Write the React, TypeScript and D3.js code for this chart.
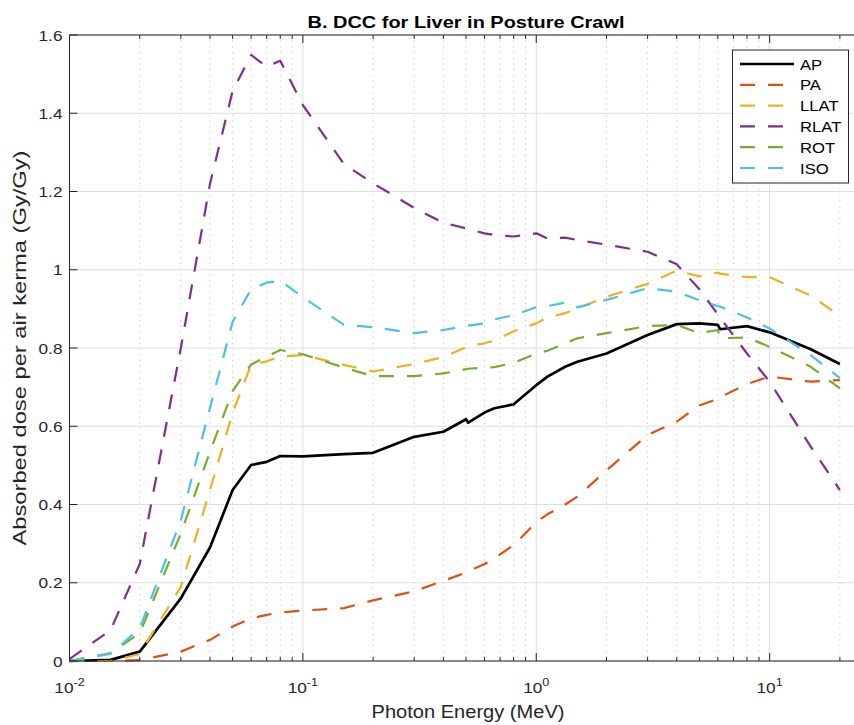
import React from "react";
import * as d3 from "d3";

const energies = [0.01, 0.015, 0.02, 0.03, 0.04, 0.05, 0.06, 0.07, 0.08, 0.1, 0.15, 0.2, 0.3, 0.4, 0.5, 0.511, 0.6, 0.662, 0.8, 1, 1.117, 1.33, 1.5, 2, 3, 4, 5, 6, 6.129, 8, 10, 15, 20];

const AP = [0, 0.003, 0.024, 0.16, 0.29, 0.437, 0.501, 0.509, 0.524, 0.523, 0.529, 0.532, 0.573, 0.586, 0.618, 0.609, 0.635, 0.646, 0.656, 0.705, 0.727, 0.752, 0.765, 0.786, 0.833, 0.861, 0.863, 0.859, 0.848, 0.856, 0.84, 0.797, 0.759];
const PA = [0, 0, 0.002, 0.024, 0.054, 0.088, 0.109, 0.118, 0.124, 0.129, 0.135, 0.155, 0.178, 0.205, 0.226, 0.229, 0.248, 0.263, 0.296, 0.355, 0.375, 0.4, 0.42, 0.487, 0.578, 0.612, 0.653, 0.67, 0.674, 0.708, 0.727, 0.714, 0.718];
const LLAT = [0, 0, 0.018, 0.19, 0.437, 0.634, 0.757, 0.766, 0.778, 0.782, 0.757, 0.74, 0.759, 0.777, 0.802, 0.804, 0.812, 0.819, 0.843, 0.863, 0.878, 0.889, 0.901, 0.931, 0.964, 0.998, 0.983, 0.993, 0.99, 0.981, 0.981, 0.934, 0.882];
const RLAT = [0.005, 0.079, 0.248, 0.8, 1.22, 1.457, 1.549, 1.519, 1.534, 1.421, 1.27, 1.221, 1.158, 1.12, 1.106, 1.104, 1.093, 1.089, 1.085, 1.093, 1.08, 1.082, 1.076, 1.064, 1.046, 1.014, 0.95, 0.886, 0.878, 0.786, 0.714, 0.548, 0.437];
const ROT = [0, 0.02, 0.071, 0.326, 0.535, 0.69, 0.758, 0.778, 0.795, 0.784, 0.75, 0.728, 0.728, 0.735, 0.746, 0.747, 0.75, 0.751, 0.762, 0.786, 0.793, 0.812, 0.825, 0.838, 0.856, 0.859, 0.838, 0.846, 0.825, 0.827, 0.803, 0.752, 0.697];
const ISO = [0, 0.018, 0.083, 0.36, 0.647, 0.867, 0.95, 0.967, 0.972, 0.93, 0.859, 0.853, 0.838, 0.846, 0.856, 0.857, 0.863, 0.873, 0.884, 0.904, 0.907, 0.916, 0.904, 0.923, 0.953, 0.944, 0.922, 0.907, 0.906, 0.878, 0.85, 0.782, 0.723];

const seriesNames = ["AP", "PA", "LLAT", "RLAT", "ROT", "ISO"];
const seriesValues = [AP, PA, LLAT, RLAT, ROT, ISO];
const seriesColors = ["#000000", "#D95319", "#EDB120", "#7E2F8E", "#77AC30", "#4DBEEE"];
const seriesDashed = [false, true, true, true, true, true];

const yTicks = [0, 0.2, 0.4, 0.6, 0.8, 1, 1.2, 1.4, 1.6];
const xMajor = [0.01, 0.1, 1, 10];
const xMajorExp = ["-2", "-1", "0", "1"];

const W = 854, H = 725;
const L = 69.5, T = 35, B = 661, R = 862.5;
const FONT = "'Liberation Sans', Arial, Helvetica, sans-serif";
const AX = "#262626";
const SX = 1.15;

export default function App() {
  const x = d3.scaleLog().domain([0.01, 25]).range([L, R]);
  const y = d3.scaleLinear().domain([0, 1.6]).range([B, T]);
  const xMinor: number[] = [];
  xMajor.forEach((d) => {
    for (let k = 2; k <= 9; k++) {
      const v = d * k;
      if (v <= 25) xMinor.push(v);
    }
  });
  const line = d3
    .line<[number, number]>()
    .x((d) => x(d[0]))
    .y((d) => y(d[1]));

  const legX = 732.5, legY = 50, legW = 116, legH = 133;
  const rowY = (i: number) => 64 + i * 20.8;

  return (
    <svg width={W} height={H} style={{ position: "absolute", left: 0, top: 0, background: "#fff" }} fontFamily={FONT}>
      <rect x={0} y={0} width={W} height={H} fill="#fff" />
      {/* minor grid */}
      {xMinor.map((v) => (
        <line key={"mg" + v} x1={x(v)} x2={x(v)} y1={T} y2={B} stroke="#c4c4c4" strokeWidth={1} strokeDasharray="1.2 4.5" />
      ))}
      {/* major grid */}
      {xMajor.map((v) => (
        <line key={"xg" + v} x1={x(v)} x2={x(v)} y1={T} y2={B} stroke="#dedede" strokeWidth={1} />
      ))}
      {yTicks.map((v) => (
        <line key={"yg" + v} x1={L} x2={W} y1={y(v)} y2={y(v)} stroke="#dedede" strokeWidth={1} />
      ))}
      {/* series */}
      {seriesValues.map((vals, i) => (
        <path
          key={seriesNames[i]}
          d={line(energies.map((e, j) => [e, vals[j]] as [number, number])) || ""}
          fill="none"
          stroke={seriesColors[i]}
          strokeWidth={seriesDashed[i] ? 2.2 : 2.7}
          strokeDasharray={seriesDashed[i] ? "15 13" : undefined}
          strokeLinejoin="round"
        />
      ))}
      {/* axes */}
      <line x1={L} x2={L} y1={T} y2={B} stroke={AX} strokeWidth={1} />
      <line x1={L} x2={W} y1={B} y2={B} stroke={AX} strokeWidth={1} />
      <line x1={L} x2={W} y1={T} y2={T} stroke={AX} strokeWidth={1} />
      {xMajor.map((v) => (
        <g key={"xt" + v}>
          <line x1={x(v)} x2={x(v)} y1={B} y2={B - 8} stroke={AX} />
          <line x1={x(v)} x2={x(v)} y1={T} y2={T + 8} stroke={AX} />
        </g>
      ))}
      {xMinor.map((v) => (
        <g key={"xmt" + v}>
          <line x1={x(v)} x2={x(v)} y1={B} y2={B - 4} stroke={AX} />
          <line x1={x(v)} x2={x(v)} y1={T} y2={T + 4} stroke={AX} />
        </g>
      ))}
      {yTicks.map((v) => (
        <g key={"yt" + v}>
          <line x1={L} x2={L + 8} y1={y(v)} y2={y(v)} stroke={AX} />
          <text transform={`translate(${L - 7},${y(v) + 5.5}) scale(${SX},1)`} textAnchor="end" fontSize={15} fill={AX}>
            {String(v)}
          </text>
        </g>
      ))}
      {xMajor.map((v, i) => (
        <text key={"xl" + v} transform={`translate(${x(v)},693) scale(${SX},1)`} textAnchor="middle" fontSize={15} fill={AX}>
          10
          <tspan dy={-7} fontSize={11}>
            {xMajorExp[i]}
          </tspan>
        </text>
      ))}
      <text x={468} y={718} textAnchor="middle" fontSize={17.5} fill={AX} textLength={193} lengthAdjust="spacingAndGlyphs">
        Photon Energy (MeV)
      </text>
      <text
        transform={`translate(26,${(T + B) / 2}) rotate(-90)`}
        textAnchor="middle"
        fontSize={17.5}
        fill={AX}
        textLength={395}
        lengthAdjust="spacingAndGlyphs"
      >
        Absorbed dose per air kerma (Gy/Gy)
      </text>
      <text x={466} y={28} textAnchor="middle" fontSize={17} fontWeight="bold" fill="#000" textLength={317} lengthAdjust="spacingAndGlyphs">
        B. DCC for Liver in Posture Crawl
      </text>
      {/* legend */}
      <rect x={legX} y={legY} width={legW} height={legH} fill="#fff" stroke={AX} strokeWidth={1} />
      {seriesNames.map((n, i) => (
        <g key={"lg" + n}>
          <line
            x1={740}
            x2={794}
            y1={rowY(i)}
            y2={rowY(i)}
            stroke={seriesColors[i]}
            strokeWidth={seriesDashed[i] ? 2.2 : 2.7}
            strokeDasharray={seriesDashed[i] ? "15 13" : undefined}
          />
          <text transform={`translate(800,${rowY(i) + 5.5}) scale(${SX},1)`} fontSize={14.5} fill="#000">
            {n}
          </text>
        </g>
      ))}
    </svg>
  );
}
